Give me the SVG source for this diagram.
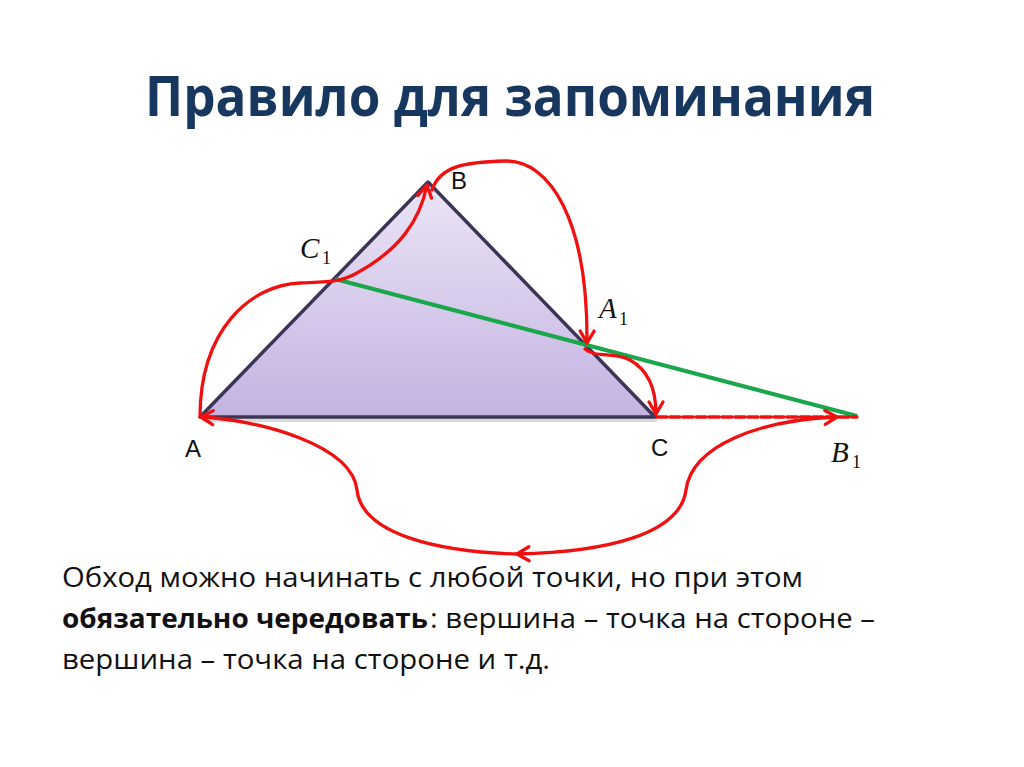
<svg xmlns="http://www.w3.org/2000/svg" width="1024" height="767" viewBox="0 0 1024 767">
<style>
.red{fill:none;stroke:#f01010;stroke-width:3.3;stroke-linecap:round}
.lbl{font-family:"Liberation Sans",Arial,sans-serif;font-size:24px;fill:#111}
.it{font-family:"Liberation Serif","Times New Roman",serif;font-style:italic;font-size:29px;fill:#111}
.sub{font-family:"Liberation Serif","Times New Roman",serif;font-size:18px;fill:#111}
.body{font-family:"Open Sans","Noto Sans",sans-serif;font-size:27px;fill:#111}
</style>
<defs>
<linearGradient id="tri" x1="0" y1="0" x2="0" y2="1">
<stop offset="0" stop-color="#ebe5f5"/>
<stop offset="1" stop-color="#c4b3e2"/>
</linearGradient>
<marker id="arr" markerUnits="userSpaceOnUse" markerWidth="30" markerHeight="30" refX="15" refY="15" orient="auto-start-reverse" overflow="visible">
<path d="M3,8 L15,15 L3,22" fill="none" stroke="#f01010" stroke-width="3.3" stroke-linecap="round" stroke-linejoin="round"/>
</marker>
</defs>
<rect width="1024" height="767" fill="#ffffff"/>
<text id="title" x="145" y="116" textLength="730" lengthAdjust="spacingAndGlyphs" font-family="'Open Sans','Noto Sans',sans-serif" font-weight="bold" font-size="55" fill="#17375e">Правило для запоминания</text>
<g id="triangle">
<path d="M202,420 L657,420" stroke="#000" stroke-opacity="0.15" stroke-width="4"/>
<polygon points="200,417 428,182 655,417" fill="url(#tri)" stroke="#3c3556" stroke-width="3.5" stroke-linejoin="round"/>
</g>
<g id="green-line">
<line x1="335" y1="279" x2="857" y2="416" stroke="#1aa64a" stroke-width="4"/>
</g>
<g id="connectors">
<path class="red" d="M200,417 C200,330 250,285 300,283 C330,282 340,282 355,274 C400,250 420,220 427,185" marker-end="url(#arr)"/>
<path class="red" d="M432,190 C440,166 465,162 505,161 C550,160 588,220 587,343" marker-end="url(#arr)"/>
<path class="red" d="M585,349 C595,358 615,352 630,360 C648,370 656,390 656,414" marker-end="url(#arr)"/>
<path class="red" d="M657,417 L857,417" stroke-dasharray="10,3" stroke-linecap="butt"/>
<path class="red" d="M517,554 C605,552 680,535 686,490 C692,445 760,420 837,417" marker-start="url(#arr)" marker-end="url(#arr)"/>
<path class="red" d="M517,554 C440,552 362,535 357,490 C352,445 260,420 201,417" marker-end="url(#arr)"/>
</g>
<g id="label-A"><text class="lbl" x="185" y="457">A</text></g>
<g id="label-B"><text class="lbl" x="451" y="189">B</text></g>
<g id="label-C"><text class="lbl" x="651" y="456">C</text></g>
<g id="label-C1"><text class="it" x="300" y="258">C</text><text class="sub" x="322" y="264">1</text></g>
<g id="label-A1"><text class="it" x="599" y="318">A</text><text class="sub" x="619" y="325">1</text></g>
<g id="label-B1"><text class="it" x="831" y="462">B</text><text class="sub" x="852" y="468">1</text></g>
<g id="caption">
<text class="body" x="62" y="587" textLength="741" lengthAdjust="spacingAndGlyphs">Обход можно начинать с любой точки, но при этом</text>
<text class="body" x="62" y="628" font-weight="bold" textLength="366" lengthAdjust="spacingAndGlyphs">обязательно чередовать</text>
<text class="body" x="430" y="628" textLength="445" lengthAdjust="spacingAndGlyphs">: вершина – точка на стороне –</text>
<text class="body" x="62" y="669" textLength="488" lengthAdjust="spacingAndGlyphs">вершина – точка на стороне и т.д.</text>
</g>
</svg>
